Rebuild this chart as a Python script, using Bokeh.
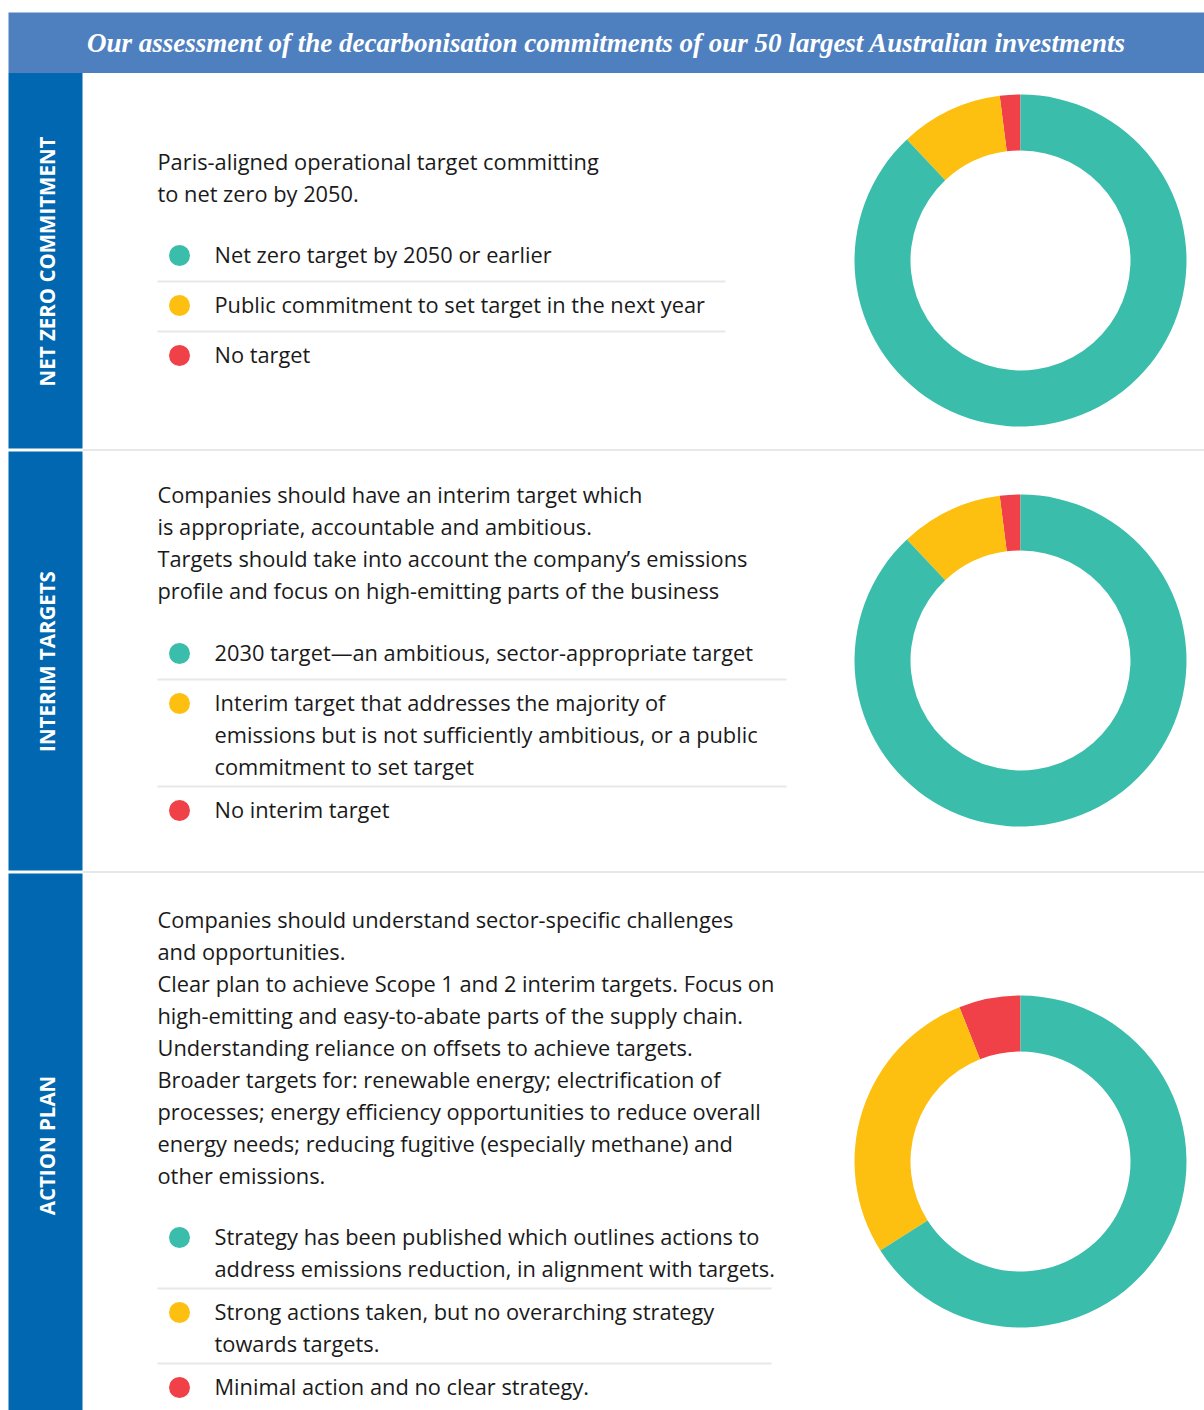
import numpy as np
from bokeh.plotting import figure
from bokeh.models import Range1d, ColumnDataSource
from bokeh.core.properties import value
from bokeh.embed import file_html
from bokeh.resources import INLINE

# ---------------- data ----------------
title = "Our assessment of the decarbonisation commitments of our 50 largest Australian investments"
section_titles = ["NET ZERO COMMITMENT", "INTERIM TARGETS", "ACTION PLAN"]

net_zero_text = ["Paris-aligned operational target committing", "to net zero by 2050."]
interim_text = ["Companies should have an interim target which",
                "is appropriate, accountable and ambitious.",
                "Targets should take into account the company\u2019s emissions",
                "profile and focus on high-emitting parts of the business"]
action_text = ["Companies should understand sector-specific challenges",
               "and opportunities.",
               "Clear plan to achieve Scope 1 and 2 interim targets. Focus on",
               "high-emitting and easy-to-abate parts of the supply chain.",
               "Understanding reliance on offsets to achieve targets.",
               "Broader targets for: renewable energy; electrification of",
               "processes; energy efficiency opportunities to reduce overall",
               "energy needs; reducing fugitive (especially methane) and",
               "other emissions."]

net_zero_labels = [["Net zero target by 2050 or earlier"],
                   ["Public commitment to set target in the next year"],
                   ["No target"]]
interim_labels = [["2030 target\u2014an ambitious, sector-appropriate target"],
                  ["Interim target that addresses the majority of",
                   "emissions but is not sufficiently ambitious, or a public",
                   "commitment to set target"],
                  ["No interim target"]]
action_labels = [["Strategy has been published which outlines actions to",
                  "address emissions reduction, in alignment with targets."],
                 ["Strong actions taken, but no overarching strategy",
                  "towards targets."],
                 ["Minimal action and no clear strategy."]]

categories = ["Green", "Yellow", "Red"]
net_zero_values = [44, 5, 1]
interim_values = [44, 5, 1]
action_values = [33, 14, 3]

# ---------------- styles / layout ----------------
GREEN, YELLOW, RED = "#3BBDAC", "#FDC010", "#EF4147"
cat_colors = [GREEN, YELLOW, RED]
HEADER = "#4E80C0"
BAR = "#0067B0"
SEP = "#E8E8E8"
INK = "#1A1A1A"
BODY_FONT = "Open Sans"
BODY_SIZE = "21.8px"
TXT_DY = -1.5

W, H = 1204, 1410
def sx(x):  # image px -> data x
    return x
def sy(y):  # image px -> data y
    return H - y

p = figure(width=W, height=H, x_range=Range1d(0, W), y_range=Range1d(0, H),
           output_backend="svg", toolbar_location=None,
           x_axis_location=None, y_axis_location=None, min_border=0)
p.grid.visible = False
p.outline_line_color = None
p.background_fill_color = "white"

# header
p.quad(left=[sx(8)], right=[sx(1204)], top=[sy(12)], bottom=[sy(72.5)], color=HEADER, line_color=None)
p.text(x=[sx(606)], y=[sy(42)], text=[title], text_align="center", text_baseline="middle",
       text_color="white", text_font=value("Liberation Serif"), text_font_style="bold italic",
       text_font_size="27px")

sections = [
    dict(top=72.5, bottom=448, sep=449.5, title_y=261, para=net_zero_text, para_y=162,
         labels=net_zero_labels, leg_y=255, sep_right=725, values=net_zero_values, cy=260),
    dict(top=451, bottom=870, sep=871.5, title_y=661, para=interim_text, para_y=495,
         labels=interim_labels, leg_y=653, sep_right=786, values=interim_values, cy=660),
    dict(top=873, bottom=1410, sep=None, title_y=1145, para=action_text, para_y=920,
         labels=action_labels, leg_y=1237, sep_right=771, values=action_values, cy=1161),
]

LINE = 32
for s, name in zip(sections, section_titles):
    # left bar
    p.quad(left=[sx(8)], right=[sx(82)], top=[sy(s["top"])], bottom=[sy(s["bottom"])],
           color=BAR, line_color=None)
    if s["sep"] is not None:
        p.segment(x0=[sx(82)], y0=[sy(s["sep"])], x1=[sx(1204)], y1=[sy(s["sep"])],
                  line_color=SEP, line_width=2)
    p.text(x=[sx(46)], y=[sy(s["title_y"])], text=[name], angle=np.pi / 2,
           text_align="center", text_baseline="middle", text_color="white",
           text_font=value("Open Sans"), text_font_style="bold", text_font_size="20.5px")
    # paragraph
    ys = [sy(s["para_y"] + TXT_DY + i * LINE) for i in range(len(s["para"]))]
    p.text(x=[sx(157)] * len(ys), y=ys, text=s["para"], text_baseline="middle",
           text_color=INK, text_font=value(BODY_FONT), text_font_size=BODY_SIZE)
    # legend
    y = s["leg_y"]
    dot_y, tx, ty, sep_y = [], [], [], []
    for k, lines in enumerate(s["labels"]):
        dot_y.append(sy(y))
        for j, ln in enumerate(lines):
            tx.append(ln)
            ty.append(sy(y + TXT_DY + j * LINE))
        last = y + (len(lines) - 1) * LINE
        if k < len(s["labels"]) - 1:
            gap = 26 if len(lines) == 1 else 19
            sep_y.append(last + gap)
            y = last + gap + 24
    p.scatter(x=[sx(179)] * 3, y=dot_y, size=21, color=cat_colors, line_color=None)
    p.text(x=[sx(214)] * len(ty), y=ty, text=tx, text_baseline="middle",
           text_color=INK, text_font=value(BODY_FONT), text_font_size=BODY_SIZE)
    p.segment(x0=[sx(157)] * len(sep_y), y0=[sy(v) for v in sep_y],
              x1=[sx(s["sep_right"])] * len(sep_y), y1=[sy(v) for v in sep_y],
              line_color=SEP, line_width=2)
    # donut: red first from top, then yellow, then green (anticlockwise)
    vals = np.array(s["values"], dtype=float)[::-1]
    cols = cat_colors[::-1]
    ang = vals / vals.sum() * 2 * np.pi
    start = np.pi / 2 + np.concatenate([[0], np.cumsum(ang)[:-1]])
    end = start + ang
    src = ColumnDataSource(dict(x=[sx(1020)] * 3, y=[sy(s["cy"])] * 3,
                                start=start, end=end, color=cols))
    p.annular_wedge(x="x", y="y", inner_radius=110, outer_radius=166,
                    start_angle="start", end_angle="end", color="color",
                    line_color=None, source=src)

open("out.html", "w").write(file_html(p, INLINE))
